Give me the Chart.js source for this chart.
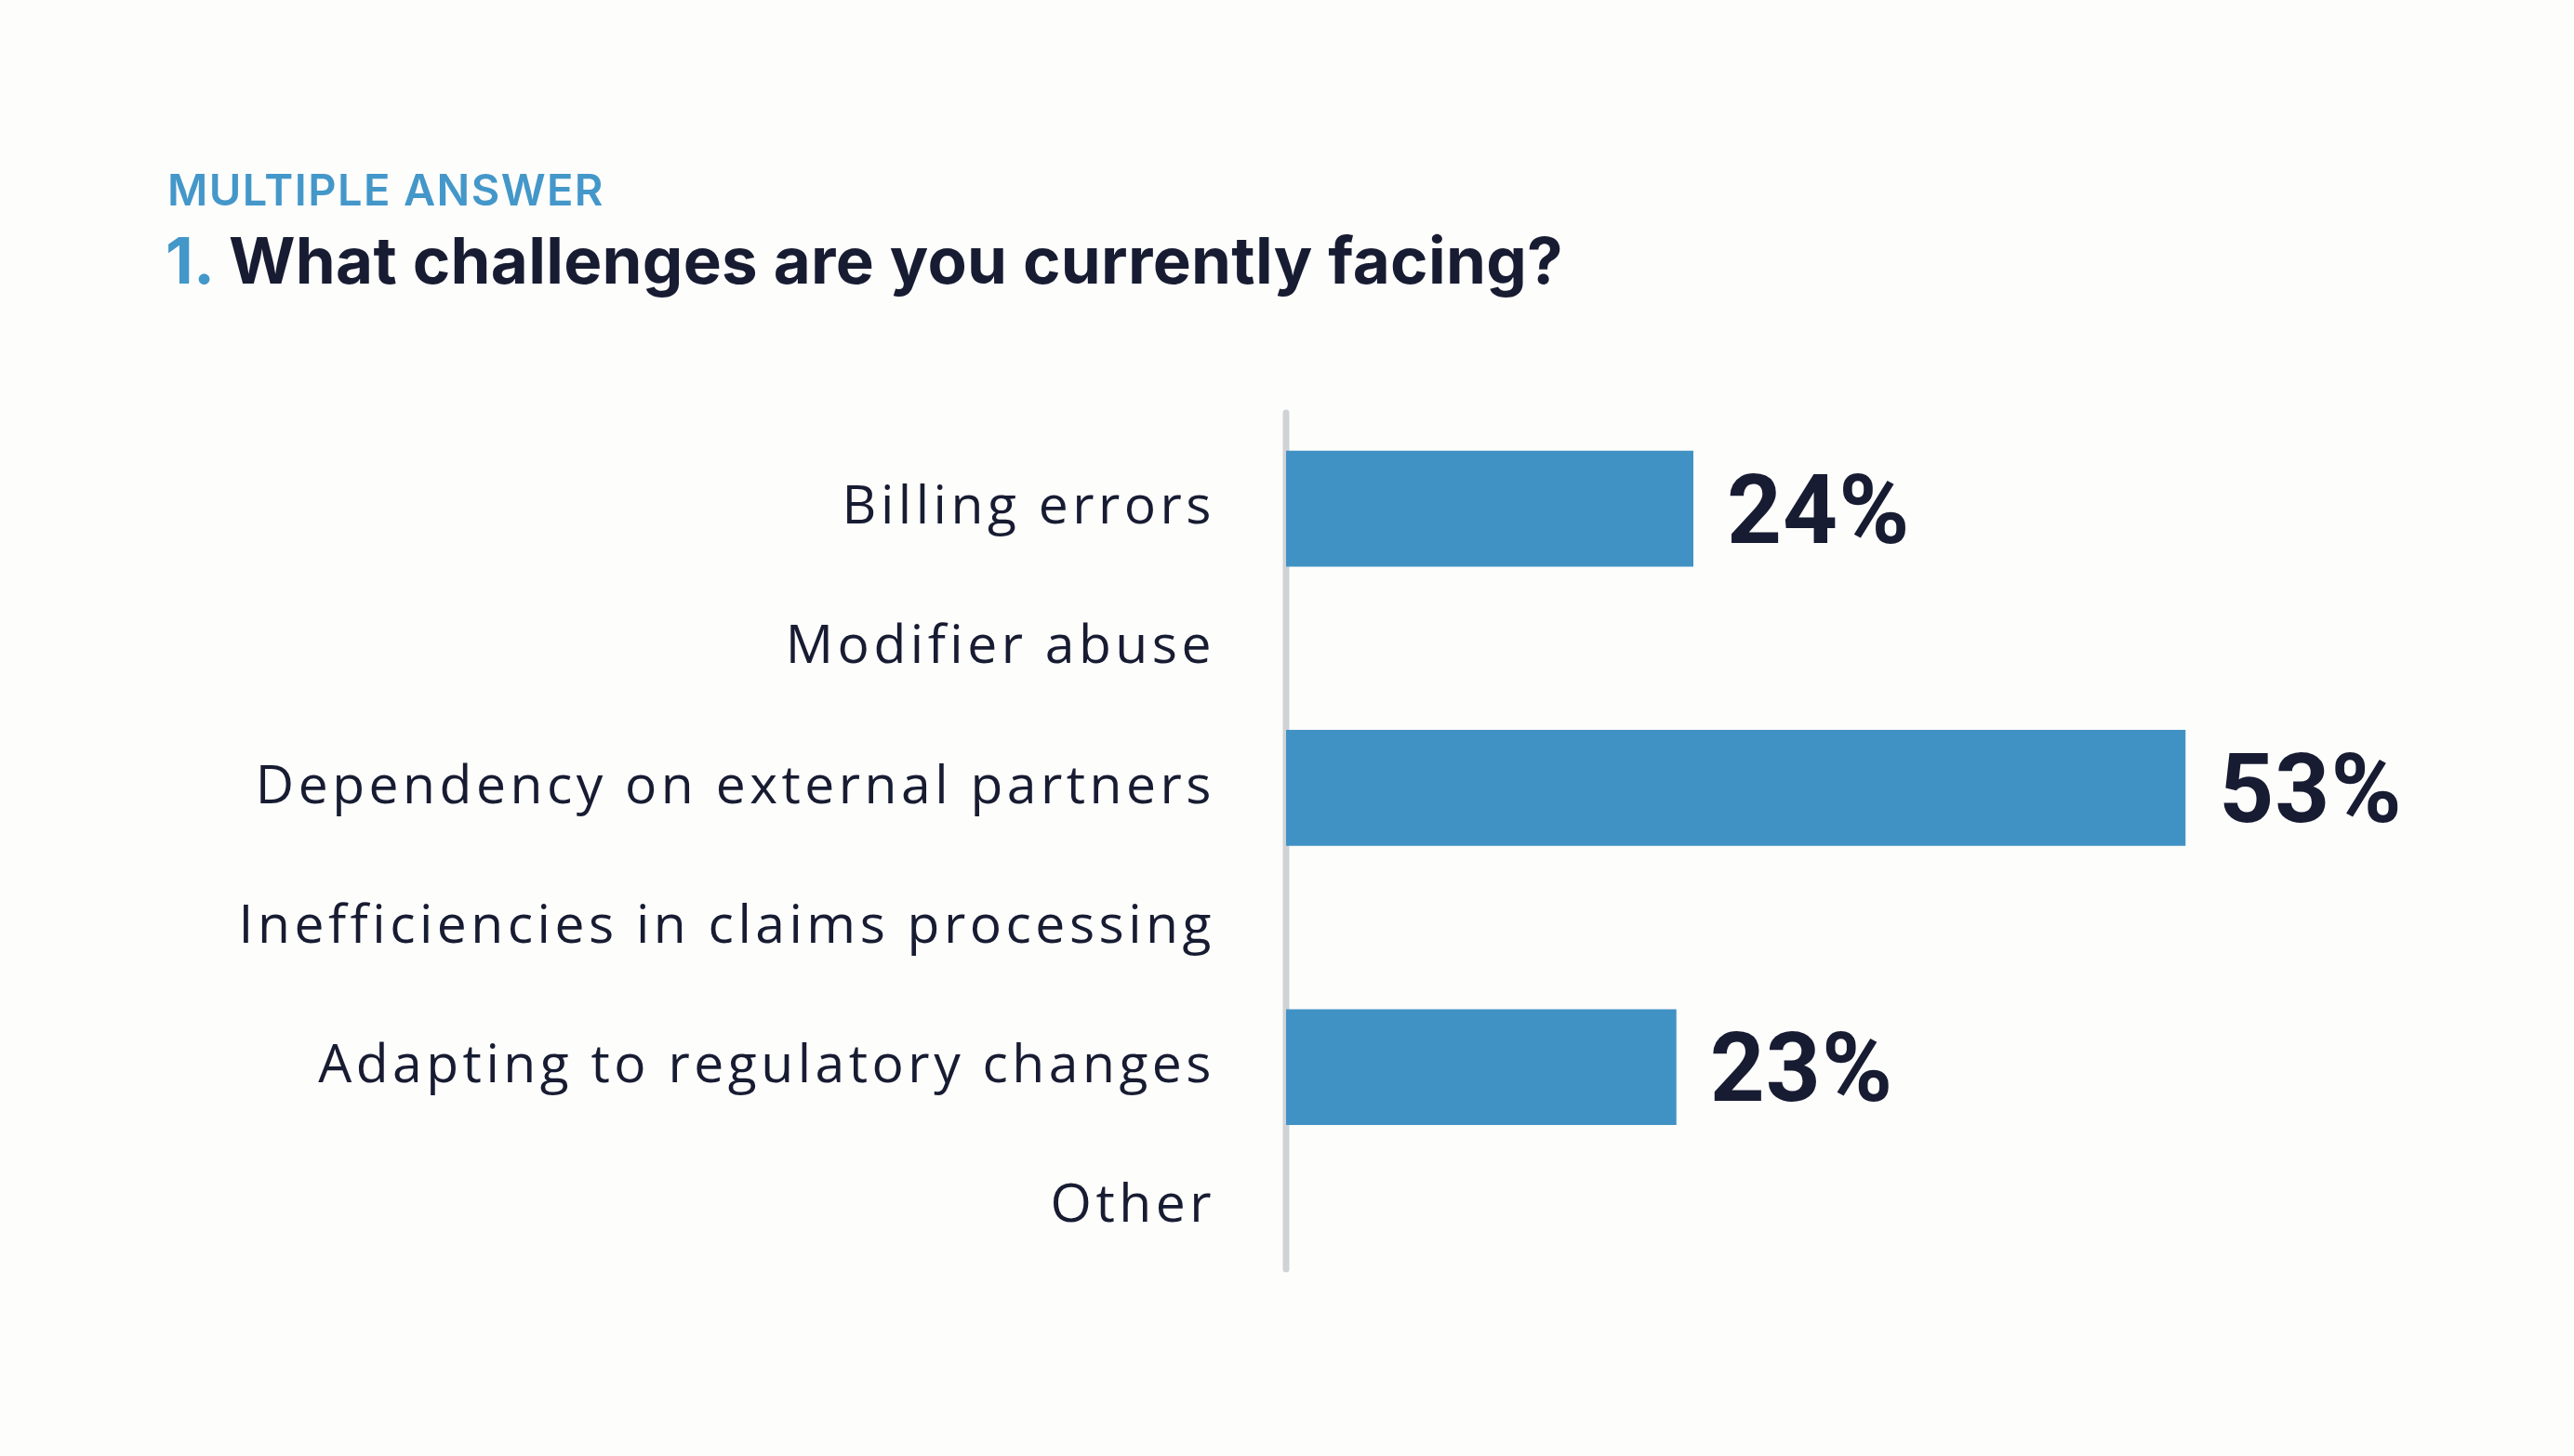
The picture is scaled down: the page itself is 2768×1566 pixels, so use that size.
<!DOCTYPE html>
<html>
<head>
<meta charset="utf-8">
<script src="https://cdn.jsdelivr.net/npm/chart.js@4.4.1/dist/chart.umd.min.js"></script>
<style>
  body { margin: 0; background: #fdfdfc; }
  .wrap { position: relative; width: 2768px; height: 1566px; }
  .kicker {
    position: absolute; left: 180px; top: 180px;
    font-family: Inter, sans-serif; font-weight: 600; font-size: 47px; line-height: 47px;
    letter-spacing: 1.4px; color: #4497c9; white-space: nowrap;
  }
  .question {
    position: absolute; left: 178px; top: 246px;
    font-family: Inter, sans-serif; font-weight: 700; font-size: 69px; line-height: 69px;
    letter-spacing: 0.3px; color: #181c32; white-space: nowrap;
  }
  .question span { color: #4497c9; }
  canvas { position: absolute; left: 0; top: 0; }
</style>
</head>
<body>
<div class="wrap">
  <canvas id="myChart" width="2768" height="1566"></canvas>
  <div class="kicker">MULTIPLE ANSWER</div>
  <div class="question"><span>1.</span> What challenges are you currently facing?</div>
</div>
<script>
// chart data
const categories = [
    'Billing errors',
    'Modifier abuse',
    'Dependency on external partners',
    'Inefficiencies in claims processing',
    'Adapting to regulatory changes',
    'Other'
];
const shares = [24, null, 53, null, 23, null]; // percent of respondents
const axisMax = 60;

const ink = '#181c32';

// grey vertical axis line with rounded ends
const axisLine = {
    id: 'axisLine',
    beforeDatasetsDraw(chart) {
        const { ctx, chartArea } = chart;
        ctx.save();
        ctx.strokeStyle = '#cfd3d6';
        ctx.lineWidth = 7;
        ctx.lineCap = 'round';
        ctx.beginPath();
        ctx.moveTo(chartArea.left, chartArea.top - 28);
        ctx.lineTo(chartArea.left, chartArea.bottom - 8);
        ctx.stroke();
        ctx.restore();
    }
};

// wider tracking for the category names
const spacing = {
    id: 'spacing',
    beforeDraw(chart) {
        chart.ctx.letterSpacing = '4.5px';
    },
    afterDraw(chart) {
        chart.ctx.letterSpacing = '0px';
    }
};

// big percentage next to each bar
const valueLabels = {
    id: 'valueLabels',
    afterDatasetsDraw(chart) {
        const { ctx } = chart;
        const meta = chart.getDatasetMeta(0);
        const size = 103;
        ctx.save();
        ctx.letterSpacing = '1px';
        ctx.font = '700 ' + size + 'px Roboto';
        ctx.fillStyle = ink;
        ctx.textAlign = 'left';
        ctx.textBaseline = 'alphabetic';
        meta.data.forEach((bar, i) => {
            if (shares[i] == null) return;
            ctx.fillText(shares[i] + '%', bar.x + 36, bar.y + size * 0.711 / 2);
        });
        ctx.restore();
    }
};

new Chart(document.getElementById('myChart'), {
    type: 'bar',
    data: {
        labels: categories,
        datasets: [
            {
                label: 'Share',
                data: shares,
                backgroundColor: '#4192c4',
                borderWidth: 0,
                barPercentage: 0.83,
                categoryPercentage: 1
            }
        ]
    },
    options: {
        indexAxis: 'y',
        responsive: false,
        animation: false,
        layout: {
            padding: { left: 0, right: 290, top: 472, bottom: 193 }
        },
        scales: {
            x: {
                display: false,
                min: 0,
                max: axisMax
            },
            y: {
                afterFit(scale) {
                    scale.width = 1383;
                },
                grid: { display: false, drawTicks: false },
                border: { display: false },
                ticks: {
                    autoSkip: false,
                    padding: 76,
                    color: ink,
                    font: { family: 'Open Sans', size: 57, weight: 400 }
                }
            }
        },
        plugins: {
            legend: { display: false },
            tooltip: { enabled: false }
        }
    },
    plugins: [axisLine, spacing, valueLabels]
});
</script>
</body>
</html>
